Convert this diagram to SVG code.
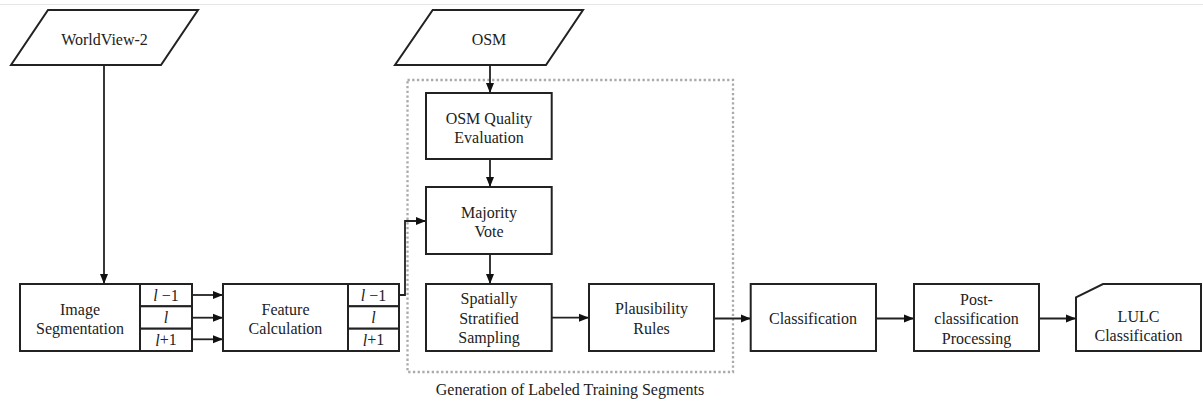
<svg xmlns="http://www.w3.org/2000/svg" width="1203" height="403" viewBox="0 0 1203 403">
<style>
.box{fill:#fff;stroke:#222;stroke-width:2}
.t{font-family:"Liberation Serif","Times New Roman",serif;font-size:16px;fill:#222;text-anchor:middle;dominant-baseline:central}
.it{font-style:italic}
.c{fill:none;stroke:#222;stroke-width:1.8}
</style>
<defs>
<marker id="ah" viewBox="0 0 10 10" refX="10" refY="5" markerWidth="10" markerHeight="10" markerUnits="userSpaceOnUse" orient="auto">
<path d="M0,1 L10,5 L0,9 Z" fill="#111"/>
</marker>
</defs>
<rect width="1203" height="403" fill="#fff"/>
<line x1="0" y1="4.5" x2="1203" y2="4.5" stroke="#e6e6e6" stroke-width="1"/>
<rect id="group-frame" x="407.5" y="80" width="325.5" height="292" fill="none" stroke="#aaa" stroke-width="2.3" stroke-dasharray="2.3 2.4"/>
<text class="t" x="570" y="389">Generation of Labeled Training Segments</text>

<g id="connectors">
<path class="c" d="M104,65 V284" marker-end="url(#ah)"/>
<path class="c" d="M192,295 H223" marker-end="url(#ah)"/>
<path class="c" d="M192,317.7 H223" marker-end="url(#ah)"/>
<path class="c" d="M192,339.3 H223" marker-end="url(#ah)"/>
<path class="c" d="M399,295 H405 V221 H426" marker-end="url(#ah)"/>
<path class="c" d="M490,65 V93" marker-end="url(#ah)"/>
<path class="c" d="M490,159 V187" marker-end="url(#ah)"/>
<path class="c" d="M490,254 V284" marker-end="url(#ah)"/>
<path class="c" d="M551.7,317.7 H589" marker-end="url(#ah)"/>
<path class="c" d="M714,318.5 H750.7" marker-end="url(#ah)"/>
<path class="c" d="M876,318.5 H914" marker-end="url(#ah)"/>
<path class="c" d="M1039,318.5 H1076" marker-end="url(#ah)"/>
</g>

<g id="worldview2">
<polygon class="box" points="48,10 198,10 161,65 11,65"/>
<text class="t" x="104.5" y="39.5">WorldView-2</text>
</g>
<g id="osm">
<polygon class="box" points="432.7,10 583,10 546,65 395,65"/>
<text class="t" x="489" y="39.5">OSM</text>
</g>

<g id="image-segmentation">
<rect class="box" x="20" y="284" width="120" height="67"/>
<text class="t" x="80" y="309">Image</text>
<text class="t" x="80" y="328">Segmentation</text>
<rect class="box" x="140" y="284" width="52" height="22.3"/>
<rect class="box" x="140" y="306.3" width="52" height="22.4"/>
<rect class="box" x="140" y="328.7" width="52" height="22.3"/>
<text class="t" x="166" y="295"><tspan class="it">l</tspan> −1</text>
<text class="t it" x="166" y="317.5">l</text>
<text class="t" x="166" y="339.5"><tspan class="it">l</tspan>+1</text>
</g>

<g id="feature-calculation">
<rect class="box" x="223" y="284" width="125" height="67"/>
<text class="t" x="285.5" y="309">Feature</text>
<text class="t" x="285.5" y="328">Calculation</text>
<rect class="box" x="348" y="284" width="51" height="22.3"/>
<rect class="box" x="348" y="306.3" width="51" height="22.4"/>
<rect class="box" x="348" y="328.7" width="51" height="22.3"/>
<text class="t" x="373.5" y="295"><tspan class="it">l</tspan> −1</text>
<text class="t it" x="373.5" y="317.5">l</text>
<text class="t" x="373.5" y="339.5"><tspan class="it">l</tspan>+1</text>
</g>

<g id="osm-quality">
<rect class="box" x="426" y="93" width="125.7" height="66"/>
<text class="t" x="489" y="118">OSM Quality</text>
<text class="t" x="489" y="137">Evaluation</text>
</g>
<g id="majority-vote">
<rect class="box" x="426" y="187" width="125.7" height="67"/>
<text class="t" x="489" y="212">Majority</text>
<text class="t" x="489" y="231">Vote</text>
</g>
<g id="spatially-stratified-sampling">
<rect class="box" x="426" y="284" width="125.7" height="67"/>
<text class="t" x="489" y="298.5">Spatially</text>
<text class="t" x="489" y="318">Stratified</text>
<text class="t" x="489" y="337.5">Sampling</text>
</g>
<g id="plausibility-rules">
<rect class="box" x="589" y="284" width="125" height="67"/>
<text class="t" x="651.5" y="308">Plausibility</text>
<text class="t" x="651.5" y="328">Rules</text>
</g>
<g id="classification">
<rect class="box" x="750.7" y="284" width="125.3" height="67"/>
<text class="t" x="813" y="318.5">Classification</text>
</g>
<g id="post-classification">
<rect class="box" x="914" y="284" width="125" height="67"/>
<text class="t" x="976.5" y="299">Post-</text>
<text class="t" x="976.5" y="318.5">classification</text>
<text class="t" x="976.5" y="338">Processing</text>
</g>
<g id="lulc-classification">
<polygon class="box" points="1103,284 1201,284 1201,351 1076,351 1076,297.3"/>
<text class="t" x="1138.5" y="316">LULC</text>
<text class="t" x="1138.5" y="335">Classification</text>
</g>
</svg>
